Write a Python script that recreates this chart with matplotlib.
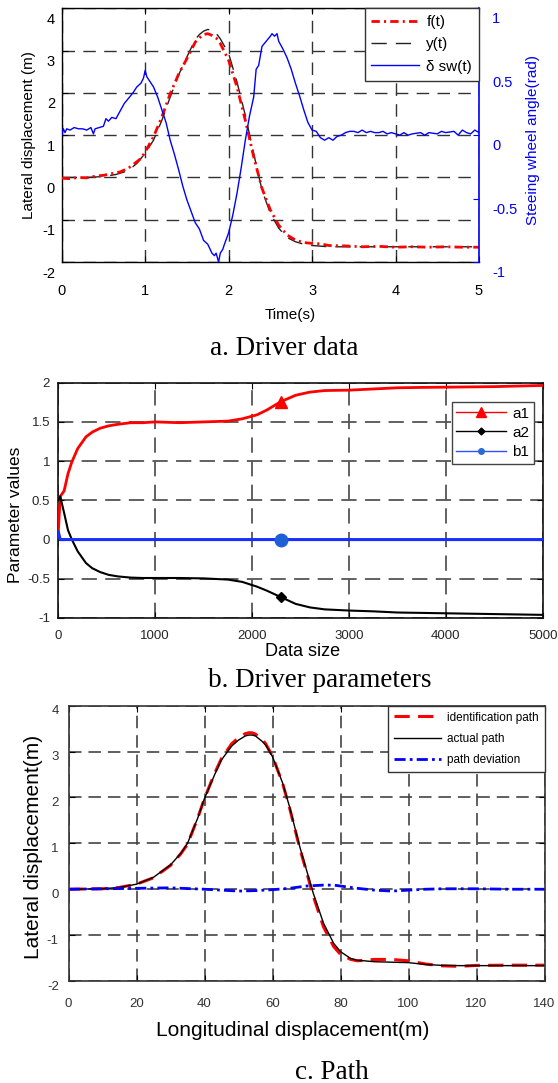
import matplotlib
matplotlib.use('Agg')
import matplotlib.pyplot as plt
from matplotlib.lines import Line2D
from matplotlib.ticker import FuncFormatter
from matplotlib.transforms import ScaledTranslation

plt.rcParams['font.family'] = ['Liberation Sans', 'DejaVu Sans']
plt.rcParams['lines.scale_dashes'] = False
plt.rcParams['axes.unicode_minus'] = False

W, H = 558, 1083

######## a. Driver data ########
t_y = [0, 0.3, 0.5, 0.65, 0.75, 0.85, 0.9, 1.0, 1.1, 1.2,
       1.3, 1.4, 1.5, 1.6, 1.65, 1.7, 1.75, 1.8, 1.85, 1.9,
       2.0, 2.1, 2.2, 2.3, 2.4, 2.5, 2.6, 2.7, 2.8, 2.9,
       3.0, 3.2, 3.5, 4.0, 5.0]
y_t = [0.0, 0.0, 0.02, 0.07, 0.13, 0.25, 0.33, 0.57, 0.88, 1.35,
       1.9, 2.42, 2.85, 3.26, 3.38, 3.46, 3.5, 3.48, 3.41, 3.28,
       2.93, 2.26, 1.47, 0.57, -0.3, -0.85, -1.2, -1.42, -1.52, -1.58,
       -1.61, -1.64, -1.64, -1.64, -1.64]

t_f = [0, 0.1, 0.2, 0.3, 0.4, 0.5, 0.6, 0.7, 0.8, 0.9,
       0.95, 1.0, 1.1, 1.2, 1.3, 1.4, 1.5, 1.6, 1.65, 1.7,
       1.75, 1.8, 1.85, 1.9, 2.0, 2.1, 2.2, 2.3, 2.4, 2.5,
       2.6, 2.7, 2.8, 2.9, 3.0, 3.1, 3.2, 3.4, 3.6, 3.8,
       4.0, 4.2, 4.4, 4.6, 4.8, 5.0]
f_t = [-0.02, -0.03, 0.0, -0.01, 0.03, 0.05, 0.09, 0.13, 0.22, 0.37,
       0.45, 0.6, 0.96, 1.43, 1.98, 2.44, 2.81, 3.2, 3.3, 3.38,
       3.4, 3.36, 3.3, 3.17, 2.77, 2.14, 1.35, 0.49, -0.26, -0.77,
       -1.13, -1.36, -1.48, -1.54, -1.56, -1.57, -1.61, -1.62, -1.64, -1.63,
       -1.65, -1.64, -1.65, -1.64, -1.65, -1.65]

t_sw = [0.00, 0.02, 0.04, 0.06, 0.10, 0.15, 0.20, 0.25, 0.30, 0.35,
        0.38, 0.40, 0.45, 0.50, 0.53, 0.56, 0.60, 0.65, 0.70, 0.75,
        0.80, 0.85, 0.90, 0.95, 0.98, 1.00, 1.02, 1.05, 1.10, 1.15,
        1.20, 1.25, 1.30, 1.35, 1.40, 1.45, 1.50, 1.55, 1.60, 1.65,
        1.70, 1.75, 1.80, 1.83, 1.85, 1.88, 1.90, 1.93, 1.95, 2.00,
        2.05, 2.10, 2.15, 2.20, 2.25, 2.30, 2.33, 2.36, 2.40, 2.45,
        2.50, 2.52, 2.55, 2.58, 2.60, 2.65, 2.70, 2.75, 2.80, 2.85,
        2.90, 2.95, 3.00, 3.05, 3.10, 3.15, 3.20, 3.25, 3.30, 3.35,
        3.40, 3.45, 3.50, 3.55, 3.60, 3.65, 3.70, 3.75, 3.80, 3.85,
        3.90, 3.95, 4.00, 4.05, 4.10, 4.15, 4.20, 4.30, 4.35, 4.40,
        4.50, 4.55, 4.60, 4.70, 4.75, 4.80, 4.85, 4.90, 4.95, 5.00]
sw_t = [0.00, 0.05, 0.02, 0.05, 0.04, 0.06, 0.05, 0.05, 0.04, 0.06,
        0.01, 0.05, 0.06, 0.07, 0.13, 0.11, 0.14, 0.13, 0.19, 0.25,
        0.29, 0.33, 0.38, 0.41, 0.45, 0.51, 0.46, 0.43, 0.38, 0.30,
        0.20, 0.10, -0.04, -0.15, -0.27, -0.40, -0.51, -0.60, -0.69, -0.74,
        -0.83, -0.86, -0.93, -0.95, -0.93, -1.00, -0.93, -0.90, -0.86, -0.77,
        -0.63, -0.46, -0.26, -0.04, 0.15, 0.30, 0.52, 0.55, 0.70, 0.74,
        0.78, 0.80, 0.78, 0.80, 0.74, 0.68, 0.61, 0.52, 0.41, 0.31,
        0.20, 0.10, 0.04, 0.03, -0.02, -0.04, -0.02, -0.04, -0.01, 0.00,
        0.02, 0.03, 0.03, 0.02, 0.04, 0.02, 0.03, 0.02, 0.02, 0.03,
        0.01, 0.02, 0.01, 0.00, 0.02, 0.00, 0.01, 0.02, 0.00, 0.02,
        0.01, 0.03, 0.02, 0.03, 0.00, 0.04, 0.02, 0.01, 0.04, 0.02]

######## b. Driver parameters ########
n_b = [0, 20, 60, 100, 140, 200, 286, 350, 433, 520,
       616, 750, 873, 1000, 1250, 1500, 1750, 1900, 2050, 2150,
       2300, 2450, 2597, 2750, 3001, 3250, 3500, 3750, 4000, 4500, 5000]
a1 = [0.1, 0.55, 0.62, 0.84, 0.99, 1.16, 1.31, 1.37, 1.42, 1.45,
      1.47, 1.49, 1.49, 1.5, 1.49, 1.5, 1.51, 1.54, 1.59, 1.65,
      1.76, 1.84, 1.88, 1.9, 1.905, 1.92, 1.935, 1.94, 1.943, 1.95, 1.965]
a2 = [0.5, 0.55, 0.34, 0.12, 0.0, -0.15, -0.3, -0.365, -0.415, -0.45,
      -0.47, -0.485, -0.49, -0.49, -0.49, -0.495, -0.51, -0.54, -0.6, -0.65,
      -0.735, -0.82, -0.865, -0.89, -0.905, -0.915, -0.93, -0.935, -0.94, -0.95, -0.96]
b1 = [0.1, 0.0, 0.0, 0.0, 0.0, 0.0, 0.0, 0.0, 0.0, 0.0,
      0.0, 0.0, 0.0, 0.0, 0.0, 0.0, 0.0, 0.0, 0.0, 0.0,
      0.0, 0.0, 0.0, 0.0, 0.0, 0.0, 0.0, 0.0, 0.0, 0.0, 0.0]

######## c. Path ########
x_path = [0, 10, 15, 20, 25, 30, 33, 35, 38, 40,
          43, 45, 48, 50, 52, 53, 54, 55, 57, 58,
          60, 63, 65, 68, 70, 72, 75, 78, 80, 83,
          85, 87, 90, 95, 100, 105, 110, 115, 120, 130, 140]
actual_path = [0.0, 0.01, 0.04, 0.11, 0.26, 0.53, 0.78, 1.0, 1.55, 1.98,
               2.5, 2.82, 3.12, 3.25, 3.34, 3.36, 3.36, 3.34, 3.22, 3.14,
               2.89, 2.31, 1.8, 0.93, 0.42, -0.09, -0.74, -1.18, -1.36, -1.51,
               -1.55, -1.56, -1.58, -1.59, -1.6, -1.64, -1.66, -1.665, -1.665, -1.665, -1.665]
ident_path = [0.0, 0.01, 0.04, 0.11, 0.25, 0.52, 0.77, 0.98, 1.55, 1.98,
              2.53, 2.85, 3.17, 3.3, 3.39, 3.41, 3.41, 3.38, 3.26, 3.17,
              2.9, 2.3, 1.78, 0.9, 0.38, -0.15, -0.82, -1.25, -1.42, -1.53,
              -1.56, -1.55, -1.53, -1.53, -1.56, -1.63, -1.67, -1.68, -1.66, -1.655, -1.655]
x_dev = [0, 10, 20, 30, 40, 45, 50, 55, 60, 65, 70, 75,
         78, 80, 85, 90, 95, 100, 105, 110, 120, 130, 140]
path_dev = [0.0, 0.01, 0.02, 0.03, 0.0, -0.02, -0.04, -0.03, -0.01, 0.02, 0.07, 0.09,
            0.09, 0.07, 0.02, -0.02, -0.04, -0.02, 0.0, 0.01, 0.01, 0.0, 0.0]

fig = plt.figure(figsize=(W / 100, H / 100), dpi=100)
fmt = FuncFormatter(lambda v, p: '{:g}'.format(v))


def box(l, t, r, b):
    return [l / W, 1 - b / H, (r - l) / W, (b - t) / H]


def fx(x):
    return x / W


def fy(y):
    return 1 - y / H


def put_label(axis, x, y):
    axis.set_label_coords(fx(x), fy(y), transform=fig.transFigure)
    axis.label.set_ha('center')
    axis.label.set_va('center')


def shift_ylabels(a, px):
    off = ScaledTranslation(0, -px / 100, fig.dpi_scale_trans)
    for tk in a.yaxis.get_major_ticks():
        tk.label1.set_transform(tk.label1.get_transform() + off)
        tk.label2.set_transform(tk.label2.get_transform() + off)


# ---------------- panel a ----------------
ax = fig.add_axes(box(61.7, 8.3, 479, 262))
lf, = ax.plot(t_f, f_t, color='red', lw=2, dashes=(6, 3, 1.5, 3), label='f(t)', zorder=3)
ly, = ax.plot(t_y, y_t, color='#222222', lw=1, dashes=(11, 6.5), label='y(t)', zorder=2)
ax.set_xlim(0, 5)
ax.set_ylim(-2, 4)
ax.set_xticks(range(0, 6))
ax.set_yticks(range(-2, 5))
ax.xaxis.set_major_formatter(fmt)
ax.yaxis.set_major_formatter(fmt)
ax.grid(True, color='#333333', lw=1, linestyle=(0, (9, 6)))
ax.spines['right'].set_visible(False)
for s in ['left', 'top', 'bottom']:
    ax.spines[s].set_linewidth(1)
ax.tick_params(axis='x', direction='in', length=4, top=True, pad=15.8, labelsize=10.5)
ax.tick_params(axis='y', direction='in', length=4, pad=4.8, labelsize=10.5)
ax.set_xlabel('Time(s)', fontsize=11)
ax.set_ylabel('Lateral displacement (m)', fontsize=11)
put_label(ax.xaxis, 290, 315)
put_label(ax.yaxis, 28.5, 135)

ax2 = ax.twinx()
lsw, = ax2.plot(t_sw, sw_t, color='blue', lw=1, label='\u03b4 sw(t)')
ax2.set_ylim(-1, 1)
ax2.set_yticks([-1, -0.5, 0, 0.5, 1])
ax2.yaxis.set_major_formatter(fmt)
for s in ['left', 'top', 'bottom']:
    ax2.spines[s].set_visible(False)
ax2.spines['right'].set_color('blue')
ax2.spines['right'].set_linewidth(1.2)
ax2.tick_params(axis='y', colors='blue', direction='in', length=4, pad=9.4, labelsize=10.5)
ax2.set_ylabel('Steeing wheel angle(rad)', fontsize=11, color='blue')
put_label(ax2.yaxis, 533, 140)
ax2.legend([lf, ly, lsw], ['f(t)', 'y(t)', '\u03b4 sw(t)'], loc='upper right',
           bbox_to_anchor=(1, 1), borderaxespad=0, fontsize=11, fancybox=False,
           framealpha=1, edgecolor='#333333', handlelength=3.1, handletextpad=0.5,
           labelspacing=0.54, borderpad=0.45)
ax2.get_legend().get_frame().set_linewidth(1)
shift_ylabels(ax, 10)
shift_ylabels(ax2, 9.5)

fig.text(fx(210), fy(355), 'a. Driver data', family='Liberation Serif', fontsize=19.5,
         ha='left', va='baseline')

# ---------------- panel b ----------------
bx = fig.add_axes(box(58.3, 382.7, 542.7, 618))
mk = n_b.index(2300)
bx.plot(n_b, a1, color='red', lw=2, marker='^', markevery=[mk], ms=8, zorder=3)
bx.plot(n_b, a2, color='black', lw=1.5, marker='D', markevery=[mk], ms=5, zorder=3)
bx.plot(n_b, b1, color='#1530ff', lw=2.2, marker='o', markevery=[mk], ms=9,
        mfc='#1f5fd6', mec='#1f5fd6', zorder=3)
bx.set_xlim(0, 5000)
bx.set_ylim(-1, 2)
bx.set_xticks(range(0, 5001, 1000))
bx.set_yticks([-1, -0.5, 0, 0.5, 1, 1.5, 2])
bx.xaxis.set_major_formatter(fmt)
bx.yaxis.set_major_formatter(fmt)
bx.grid(True, color='#555555', lw=1.3, linestyle=(0, (11, 6)))
for s in bx.spines.values():
    s.set_linewidth(1.2)
    s.set_color('#111111')
bx.tick_params(direction='in', length=4, top=True, right=True, labelsize=9.5,
               labelcolor='#262626')
bx.tick_params(axis='x', pad=8.6)
bx.tick_params(axis='y', pad=6)
bx.set_xlabel('Data size', fontsize=13)
bx.set_ylabel('Parameter values', fontsize=12.5)
put_label(bx.xaxis, 302.5, 652)
put_label(bx.yaxis, 16, 515)
hb = [Line2D([], [], color='red', lw=1, marker='^', ms=7),
      Line2D([], [], color='black', lw=1, marker='D', ms=3.5),
      Line2D([], [], color='#3050ff', lw=1, marker='o', ms=4, mfc='#2a6ad8', mec='#2a6ad8')]
bx.legend(hb, ['a1', 'a2', 'b1'], loc='upper right', bbox_to_anchor=(0.982, 0.918),
          borderaxespad=0, fontsize=11, fancybox=False, framealpha=1,
          edgecolor='#444444', handlelength=3.27, handletextpad=0.4,
          labelspacing=0.34, borderpad=0.3)

fig.text(fx(208), fy(687), 'b. Driver parameters', family='Liberation Serif', fontsize=19.5,
         ha='left', va='baseline')

# ---------------- panel c ----------------
cx = fig.add_axes(box(68.5, 705.7, 544.5, 981))
l1, = cx.plot(x_path, ident_path, color='red', lw=2.2, dashes=(11, 6))
l2, = cx.plot(x_path, actual_path, color='black', lw=1)
l3, = cx.plot(x_dev, path_dev, color='blue', lw=2, dashes=(8, 3, 2, 3))
cx.set_xlim(0, 140)
cx.set_ylim(-2, 4)
cx.set_xticks(range(0, 141, 20))
cx.set_yticks(range(-2, 5))
cx.xaxis.set_major_formatter(fmt)
cx.yaxis.set_major_formatter(fmt)
cx.grid(True, color='#444444', lw=1.2, linestyle=(0, (9, 5)))
for s in cx.spines.values():
    s.set_linewidth(1.2)
    s.set_color('#333333')
cx.tick_params(direction='in', length=4, top=True, right=True, labelsize=9.5,
               labelcolor='#333333')
cx.tick_params(axis='x', pad=12.2)
cx.tick_params(axis='y', pad=7)
cx.set_xlabel('Longitudinal displacement(m)', fontsize=15)
cx.set_ylabel('Lateral displacement(m)', fontsize=15)
put_label(cx.xaxis, 293, 1031)
put_label(cx.yaxis, 34, 847)
cx.legend([l1, l2, l3], ['identification path', 'actual path', 'path deviation'],
          loc='upper right', bbox_to_anchor=(1, 1), borderaxespad=0, fontsize=8.5,
          fancybox=False, framealpha=1, edgecolor='#333333', handlelength=4,
          handletextpad=0.5, labelspacing=0.8, borderpad=0.5)
shift_ylabels(cx, 4)

fig.text(fx(295), fy(1079), 'c. Path', family='Liberation Serif', fontsize=19.5,
         ha='left', va='baseline')

fig.savefig('out.png', dpi=100)
